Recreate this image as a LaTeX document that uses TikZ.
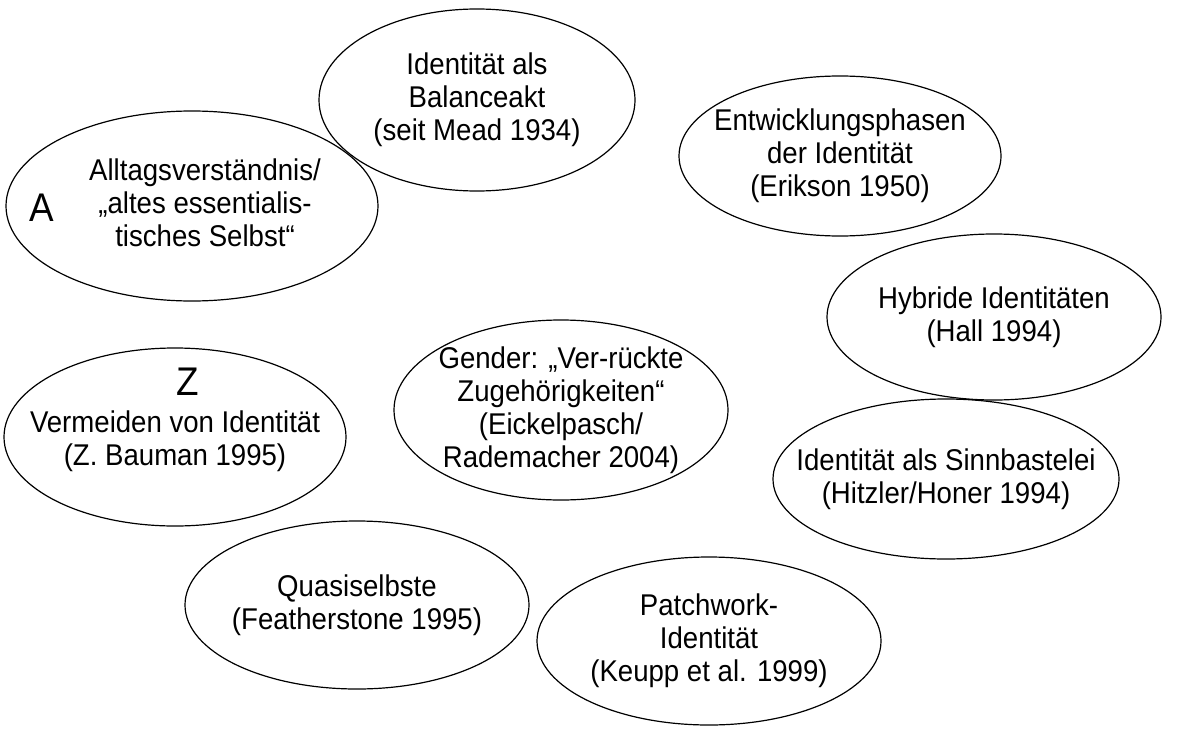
\documentclass[tikz,border=0pt]{standalone}
\usepackage{fontspec}
\setmainfont{Liberation Sans}[FakeStretch=0.92]
\usetikzlibrary{shapes.geometric}

\tikzset{
  blob/.style = {ellipse, draw, line width = 0.6pt, inner sep = 0pt},
  txt/.style = {align = center, inner sep = 0pt, font = \fontsize{15}{16.5}\selectfont},
  big/.style = {inner sep = 0pt, font = \fontsize{20}{20}\selectfont}
}

\begin{document}
\begin{tikzpicture}[x = 0.5pt, y = -0.5pt]
	\useasboundingbox (0, 0) rectangle (1182, 733);
	% Ellipses
	\node[blob, minimum width = 158pt, minimum height = 91pt] (bal) at (477, 100) {};
	\node[blob, minimum width = 161pt, minimum height = 80pt] (erik) at (840, 156) {};
	\node[blob, minimum width = 186pt, minimum height = 95pt] (alltag) at (192, 206) {};
	\node[blob, minimum width = 167pt, minimum height = 83pt] (hall) at (994, 317) {};
	\node[blob, minimum width = 167pt, minimum height = 90pt] (gender) at (561, 410) {};
	\node[blob, minimum width = 171pt, minimum height = 89pt] (bauman) at (175, 437) {};
	\node[blob, minimum width = 173pt, minimum height = 80pt] (sinn) at (946, 479) {};
	\node[blob, minimum width = 172pt, minimum height = 84pt] (quasi) at (357, 605) {};
	\node[blob, minimum width = 172pt, minimum height = 84pt] (patch) at (709, 641) {};

	% Texts
	\node[txt] (baltxt) at (bal) {Identität als\\Balanceakt\\(seit Mead 1934)};
	\node[txt] (eriktxt) at (erik) {Entwicklungsphasen\\der Identität\\(Erikson 1950)};
	\node[txt] (alltagtxt) at (205, 203)
		{Alltagsverständnis/\\„altes essentialis-\\tisches Selbst“};
	\node[big] (a) at (42, 208) {A};
	\node[txt] (halltxt) at (hall) {Hybride Identitäten\\(Hall 1994)};
	\node[txt] (gendertxt) at (gender)
		{Gender: „Ver-rückte\\Zugehörigkeiten“\\(Eickelpasch/\\Rademacher 2004)};
	\node[big] (z) at (188, 382) {Z};
	\node[txt] (baumantxt) at (175, 441) {Vermeiden von Identität\\(Z. Bauman 1995)};
	\node[txt] (sinntxt) at (sinn) {Identität als Sinnbastelei\\(Hitzler/Honer 1994)};
	\node[txt] (quasitxt) at (quasi) {Quasiselbste\\(Featherstone 1995)};
	\node[txt] (patchtxt) at (patch) {Patchwork-\\Identität\\(Keupp et al. 1999)};
\end{tikzpicture}
\end{document}
